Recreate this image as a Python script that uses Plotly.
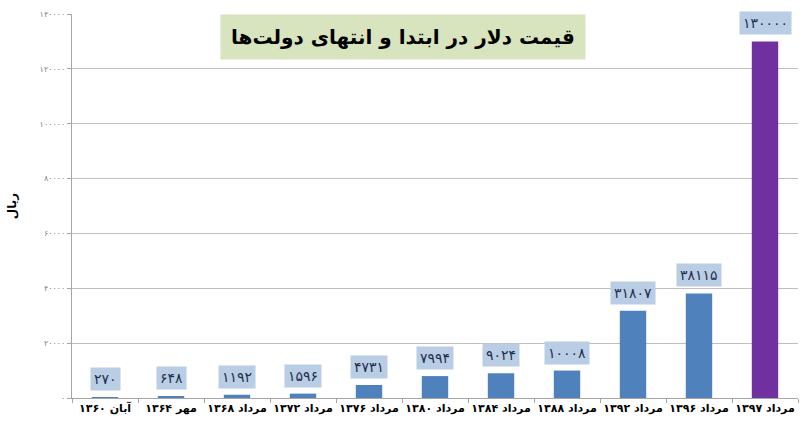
import plotly.graph_objects as go

categories = ["آبان ۱۳۶۰", "مهر ۱۳۶۴", "مرداد ۱۳۶۸", "مرداد ۱۳۷۲", "مرداد ۱۳۷۶",
              "مرداد ۱۳۸۰", "مرداد ۱۳۸۴", "مرداد ۱۳۸۸", "مرداد ۱۳۹۲", "مرداد ۱۳۹۶", "مرداد ۱۳۹۷"]
values = [270, 648, 1192, 1596, 4731, 7994, 9024, 10008, 31807, 38115, 130000]
y_ticks = [0, 20000, 40000, 60000, 80000, 100000, 120000, 140000]

title_text = "قیمت دلار در ابتدا و انتهای دولت‌ها"
y_title = "ریال"

FA = str.maketrans("0123456789", "۰۱۲۳۴۵۶۷۸۹")
def fa(n):
    return str(n).translate(FA)

bar_colors = ["#4f81bd"] * (len(values) - 1) + ["#7030a0"]

fig = go.Figure()
fig.add_trace(go.Bar(x=categories, y=values, marker=dict(color=bar_colors, line=dict(width=0)),
                     width=0.4, hoverinfo="skip"))

for c, v in zip(categories, values):
    fig.add_annotation(x=c, y=v, text=fa(v), showarrow=False, yanchor="bottom", yshift=6,
                       bgcolor="#b9cde5", borderpad=3,
                       font=dict(family="DejaVu Sans", size=14, color="#1f2f4f"))

fig.add_annotation(xref="paper", yref="paper", x=0.456, y=0.94, xanchor="center", yanchor="middle",
                   text="<b>" + title_text + "</b>",
                   showarrow=False, bgcolor="#d7e4bd", borderpad=10,
                   font=dict(family="DejaVu Sans", size=20, color="#000000"))

fig.update_layout(
    width=800, height=429,
    margin=dict(l=72, r=2, t=14, b=31),
    paper_bgcolor="white", plot_bgcolor="white",
    showlegend=False,
    xaxis=dict(showgrid=False, showline=True, linecolor="#a6a6a6", linewidth=1, automargin=False,
               ticks="outside", ticklen=4, tickcolor="#a6a6a6", tickson="boundaries",
               ticktext=["<b>" + c + "</b>" for c in categories], tickvals=categories,
               tickangle=0,
               tickfont=dict(family="DejaVu Sans", size=11, color="#000000"),
               range=[-0.5, len(categories) - 0.5]),
    yaxis=dict(range=[0, 140000], tickvals=y_ticks, ticktext=[fa(t) for t in y_ticks],
               automargin=False,
               showgrid=True, gridcolor="#bfbfbf", gridwidth=1,
               showline=True, linecolor="#a6a6a6", zeroline=False,
               ticks="outside", ticklen=4, tickcolor="#a6a6a6",
               tickfont=dict(family="DejaVu Sans", size=8, color="#7f7f7f"),
               title=dict(text="<b>" + y_title + "</b>", standoff=20,
                          font=dict(family="DejaVu Sans", size=12, color="#000000"))),
)

fig.write_html("out.html", config={"displayModeBar": False},
               post_script="document.body.style.margin='0';document.body.style.overflow='hidden';")
